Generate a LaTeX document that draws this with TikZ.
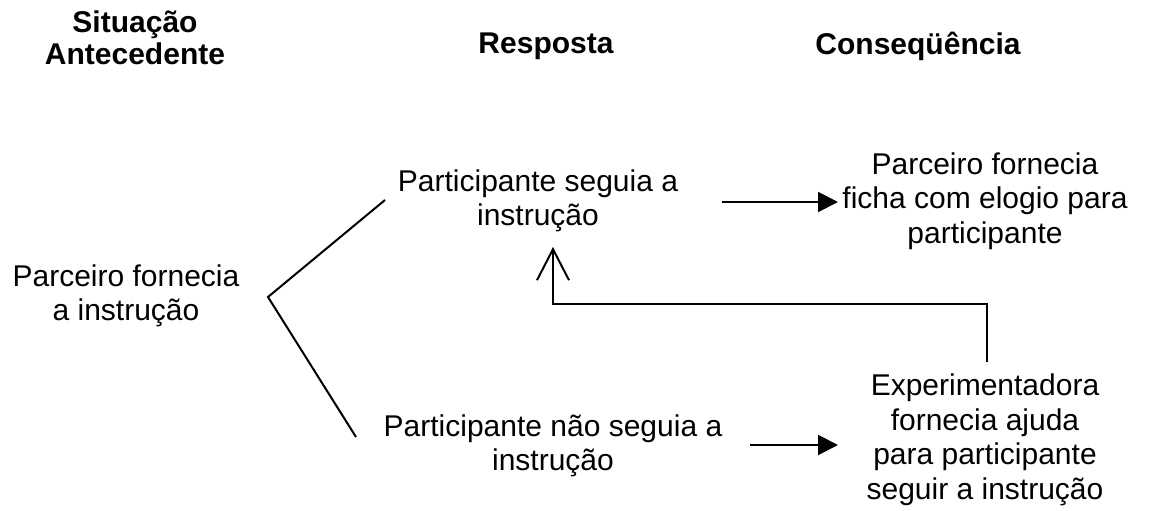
\documentclass[tikz,border=0pt]{standalone}
\usepackage{fontspec}
\setmainfont{Liberation Sans}
\usetikzlibrary{arrows.meta}
\begin{document}
\begin{tikzpicture}[x=1pt,y=-1pt,
  txt/.style={align=center,inner sep=0pt,font=\fontsize{30}{34.5}\selectfont},
  head/.style={align=center,inner sep=0pt,font=\fontsize{30}{32}\selectfont\bfseries},
  conn/.style={line width=2pt},
  fwd/.style={conn,-{Triangle[length=20pt,width=20pt]}},
  back/.style={conn,-{Straight Barb[length=31pt,width=32pt,line width=2pt]}}]
\useasboundingbox (0,0) rectangle (1157,511);
\node[head] (hsit) at (135,38) {Situação\\Antecedente};
\node[head] (hresp) at (546,46) {Resposta};
\node[head] (hcons) at (918,46) {Conseqüência};
\node[txt] (ante) at (126,296) {Parceiro fornecia\\a instrução};
\node[txt] (seg) at (538,201) {Participante seguia a\\instrução};
\node[txt] (nseg) at (553,446) {Participante não seguia a\\instrução};
\node[txt] (elog) at (985,201) {Parceiro fornecia\\ficha com elogio para\\participante};
\node[txt] (ajud) at (985,440) {Experimentadora\\fornecia ajuda\\para participante\\seguir a instrução};
\coordinate (v) at (268,297);
\coordinate (vtop) at (385,200);
\coordinate (vbot) at (356,437);
\draw[conn] (vtop) -- (v) -- (vbot);
\coordinate (a1s) at (722,202);
\coordinate (a1e) at (838,202);
\draw[fwd] (a1s) -- (a1e);
\coordinate (a2s) at (750,445);
\coordinate (a2e) at (838,445);
\draw[fwd] (a2s) -- (a2e);
\coordinate (fb) at (987,362);
\coordinate (ft) at (553,247);
\draw[back] (fb) |- (553,304) -- (ft);
\end{tikzpicture}
\end{document}
